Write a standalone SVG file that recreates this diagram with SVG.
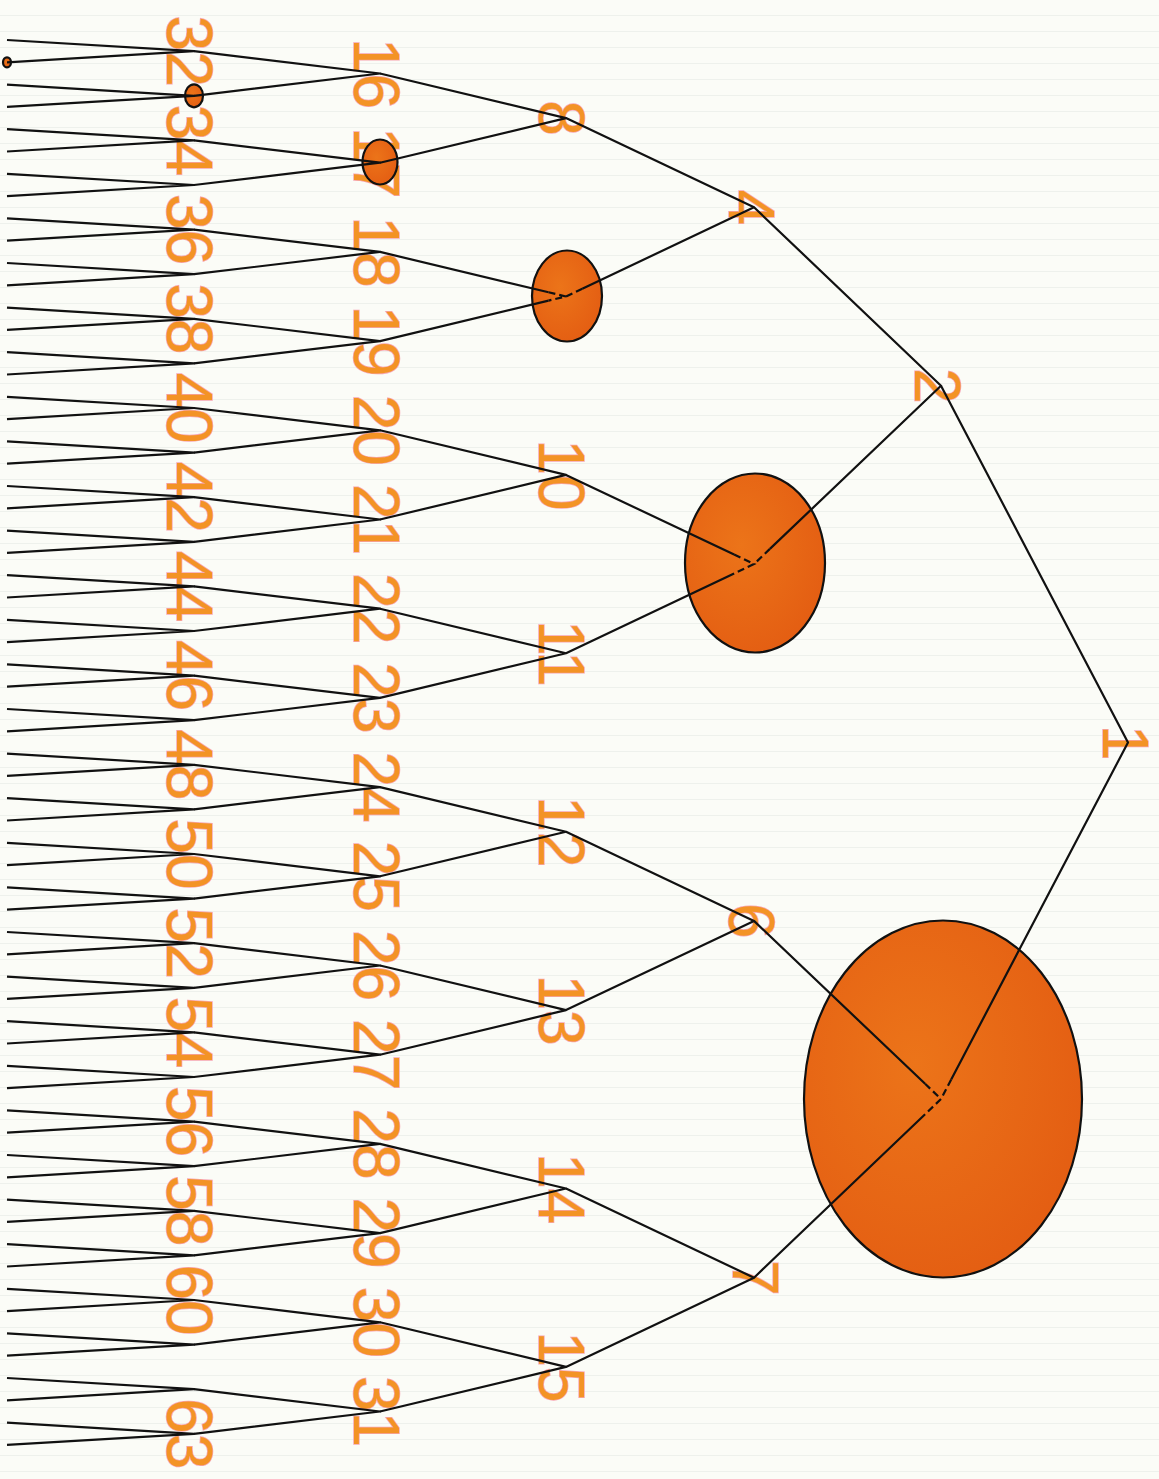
<svg xmlns="http://www.w3.org/2000/svg" width="1159" height="1479" viewBox="0 0 1159 1479">
<style>
.e{fill:none;stroke:#111;stroke-width:2.2;stroke-linejoin:round}
.d{fill:none;stroke:#111;stroke-width:2.2;stroke-dasharray:7 4}
.l{font-family:"Liberation Sans",Arial,sans-serif;font-size:64px;fill:#f39325;stroke:#f7a6b4;stroke-width:1.5;paint-order:stroke;text-anchor:middle}
.o{fill:url(#og);stroke:#111;stroke-width:2.2}
</style>
<defs>
<radialGradient id="og" cx="0.4" cy="0.4" r="0.7">
<stop offset="0" stop-color="#ec7419"/>
<stop offset="1" stop-color="#e35c12"/>
</radialGradient>
<pattern id="bg" width="20" height="16" patternUnits="userSpaceOnUse">
<rect width="20" height="16" fill="#fbfcf7"/>
<rect y="15" width="20" height="1" fill="#eef1ec"/>
</pattern>
</defs>
<rect width="1159" height="1479" fill="url(#bg)"/>
<g id="labels">
<g id="node-1"><text class="l" transform="translate(1126 742.5) rotate(90)" dy="0.36em">1</text></g>
<g id="node-2"><text class="l" transform="translate(938 385.7) rotate(90)" dy="0.36em">2</text></g>
<g id="node-4"><text class="l" transform="translate(752 207.3) rotate(90)" dy="0.36em">4</text></g>
<g id="node-6"><text class="l" transform="translate(752 920.9) rotate(90)" dy="0.36em">6</text></g>
<g id="node-7"><text class="l" transform="translate(756 1277.7) rotate(90)" dy="0.36em">7</text></g>
<g id="node-8"><text class="l" transform="translate(562 118.1) rotate(90)" dy="0.36em">8</text></g>
<g id="node-10"><text class="l" transform="translate(562 474.9) rotate(90)" dy="0.36em">10</text></g>
<g id="node-11"><text class="l" transform="translate(562 653.3) rotate(90)" dy="0.36em">11</text></g>
<g id="node-12"><text class="l" transform="translate(562 831.7) rotate(90)" dy="0.36em">12</text></g>
<g id="node-13"><text class="l" transform="translate(562 1010.1) rotate(90)" dy="0.36em">13</text></g>
<g id="node-14"><text class="l" transform="translate(562 1188.5) rotate(90)" dy="0.36em">14</text></g>
<g id="node-15"><text class="l" transform="translate(562 1366.9) rotate(90)" dy="0.36em">15</text></g>
<g id="node-16"><text class="l" transform="translate(377 73.5) rotate(90)" dy="0.36em">16</text></g>
<g id="node-17"><text class="l" transform="translate(377 162.7) rotate(90)" dy="0.36em">17</text><ellipse class="o" cx="380" cy="162" rx="17.5" ry="22.5"/></g>
<g id="node-18"><text class="l" transform="translate(377 251.9) rotate(90)" dy="0.36em">18</text></g>
<g id="node-19"><text class="l" transform="translate(377 341.1) rotate(90)" dy="0.36em">19</text></g>
<g id="node-20"><text class="l" transform="translate(377 430.3) rotate(90)" dy="0.36em">20</text></g>
<g id="node-21"><text class="l" transform="translate(377 519.5) rotate(90)" dy="0.36em">21</text></g>
<g id="node-22"><text class="l" transform="translate(377 608.7) rotate(90)" dy="0.36em">22</text></g>
<g id="node-23"><text class="l" transform="translate(377 697.9) rotate(90)" dy="0.36em">23</text></g>
<g id="node-24"><text class="l" transform="translate(377 787.1) rotate(90)" dy="0.36em">24</text></g>
<g id="node-25"><text class="l" transform="translate(377 876.3) rotate(90)" dy="0.36em">25</text></g>
<g id="node-26"><text class="l" transform="translate(377 965.5) rotate(90)" dy="0.36em">26</text></g>
<g id="node-27"><text class="l" transform="translate(377 1054.7) rotate(90)" dy="0.36em">27</text></g>
<g id="node-28"><text class="l" transform="translate(377 1143.9) rotate(90)" dy="0.36em">28</text></g>
<g id="node-29"><text class="l" transform="translate(377 1233.1) rotate(90)" dy="0.36em">29</text></g>
<g id="node-30"><text class="l" transform="translate(377 1322.3) rotate(90)" dy="0.36em">30</text></g>
<g id="node-31"><text class="l" transform="translate(377 1411.5) rotate(90)" dy="0.36em">31</text></g>
<g id="node-32"><text class="l" transform="translate(190 51.2) rotate(90)" dy="0.36em">32</text></g>
<g id="node-34"><text class="l" transform="translate(190 140.4) rotate(90)" dy="0.36em">34</text></g>
<g id="node-36"><text class="l" transform="translate(190 229.6) rotate(90)" dy="0.36em">36</text></g>
<g id="node-38"><text class="l" transform="translate(190 318.8) rotate(90)" dy="0.36em">38</text></g>
<g id="node-40"><text class="l" transform="translate(190 408) rotate(90)" dy="0.36em">40</text></g>
<g id="node-42"><text class="l" transform="translate(190 497.2) rotate(90)" dy="0.36em">42</text></g>
<g id="node-44"><text class="l" transform="translate(190 586.4) rotate(90)" dy="0.36em">44</text></g>
<g id="node-46"><text class="l" transform="translate(190 675.6) rotate(90)" dy="0.36em">46</text></g>
<g id="node-48"><text class="l" transform="translate(190 764.8) rotate(90)" dy="0.36em">48</text></g>
<g id="node-50"><text class="l" transform="translate(190 854) rotate(90)" dy="0.36em">50</text></g>
<g id="node-52"><text class="l" transform="translate(190 943.2) rotate(90)" dy="0.36em">52</text></g>
<g id="node-54"><text class="l" transform="translate(190 1032.4) rotate(90)" dy="0.36em">54</text></g>
<g id="node-56"><text class="l" transform="translate(190 1121.6) rotate(90)" dy="0.36em">56</text></g>
<g id="node-58"><text class="l" transform="translate(190 1210.8) rotate(90)" dy="0.36em">58</text></g>
<g id="node-60"><text class="l" transform="translate(190 1300) rotate(90)" dy="0.36em">60</text></g>
<g id="node-63"><text class="l" transform="translate(190 1433.8) rotate(90)" dy="0.36em">63</text></g>
</g>
<g id="node-3"><ellipse class="o" cx="943" cy="1099" rx="139" ry="178.5"/></g>
<g id="node-5"><ellipse class="o" cx="755" cy="563" rx="70" ry="89.5"/></g>
<g id="node-9"><ellipse class="o" cx="567" cy="296" rx="35" ry="45.5"/></g>
<g id="node-33"><ellipse class="o" cx="194" cy="95.8" rx="9" ry="11.5"/></g>
<g id="node-65"><ellipse class="o" cx="7" cy="62.3" rx="4" ry="5"/></g>
<g id="connectors">
<path class="e" d="M941 385.7 L1128 742.5 L951.2 1079.5"/>
<path class="d" d="M951.2 1079.5 L941 1099"/>
<path class="e" d="M754 207.3 L941 385.7 L769.9 548.9"/>
<path class="d" d="M769.9 548.9 L754 564.1"/>
<path class="e" d="M754 920.9 L925.1 1083.8 M754 1277.7 L925.1 1114.2"/>
<path class="d" d="M925.1 1083.8 L941 1099 L925.1 1114.2"/>
<path class="e" d="M566 118.1 L754 207.3 L582.3 288.7"/>
<path class="d" d="M582.3 288.7 L566 296.5"/>
<path class="e" d="M566 474.9 L734.1 554.6 M566 653.3 L734.1 573.5"/>
<path class="d" d="M734.1 554.6 L754 564.1 L734.1 573.5"/>
<path class="e" d="M566 831.7 L754 920.9 L566 1010.1"/>
<path class="e" d="M566 1188.5 L754 1277.7 L566 1366.9"/>
<path class="e" d="M380 251.9 L548.5 292.3 M380 341.1 L548.5 300.6"/>
<path class="d" d="M548.5 292.3 L566 296.5 L548.5 300.6"/>
<path class="e" d="M380 73.5 L566 118.1 L380 162.7"/>
<path class="e" d="M380 430.3 L566 474.9 L380 519.5"/>
<path class="e" d="M380 608.7 L566 653.3 L380 697.9"/>
<path class="e" d="M380 787.1 L566 831.7 L380 876.3"/>
<path class="e" d="M380 965.5 L566 1010.1 L380 1054.7"/>
<path class="e" d="M380 1143.9 L566 1188.5 L380 1233.1"/>
<path class="e" d="M380 1322.3 L566 1366.9 L380 1411.5"/>
<path class="e" d="M194 51.2 L380 73.5 L194 95.8"/>
<path class="e" d="M194 140.4 L380 162.7 L194 185"/>
<path class="e" d="M194 229.6 L380 251.9 L194 274.2"/>
<path class="e" d="M194 318.8 L380 341.1 L194 363.4"/>
<path class="e" d="M194 408 L380 430.3 L194 452.6"/>
<path class="e" d="M194 497.2 L380 519.5 L194 541.8"/>
<path class="e" d="M194 586.4 L380 608.7 L194 631"/>
<path class="e" d="M194 675.6 L380 697.9 L194 720.2"/>
<path class="e" d="M194 764.8 L380 787.1 L194 809.4"/>
<path class="e" d="M194 854 L380 876.3 L194 898.6"/>
<path class="e" d="M194 943.2 L380 965.5 L194 987.8"/>
<path class="e" d="M194 1032.4 L380 1054.7 L194 1077"/>
<path class="e" d="M194 1121.6 L380 1143.9 L194 1166.2"/>
<path class="e" d="M194 1210.8 L380 1233.1 L194 1255.4"/>
<path class="e" d="M194 1300 L380 1322.3 L194 1344.6"/>
<path class="e" d="M194 1389.2 L380 1411.5 L194 1433.8"/>
<path class="e" d="M7 40 L194 51.2 L7 62.3"/>
<path class="e" d="M7 84.6 L194 95.8 L7 106.9"/>
<path class="e" d="M7 129.2 L194 140.4 L7 151.5"/>
<path class="e" d="M7 173.8 L194 185 L7 196.1"/>
<path class="e" d="M7 218.4 L194 229.6 L7 240.7"/>
<path class="e" d="M7 263 L194 274.2 L7 285.3"/>
<path class="e" d="M7 307.6 L194 318.8 L7 329.9"/>
<path class="e" d="M7 352.2 L194 363.4 L7 374.5"/>
<path class="e" d="M7 396.8 L194 408 L7 419.1"/>
<path class="e" d="M7 441.4 L194 452.6 L7 463.7"/>
<path class="e" d="M7 486 L194 497.2 L7 508.3"/>
<path class="e" d="M7 530.6 L194 541.8 L7 552.9"/>
<path class="e" d="M7 575.2 L194 586.4 L7 597.5"/>
<path class="e" d="M7 619.8 L194 631 L7 642.1"/>
<path class="e" d="M7 664.4 L194 675.6 L7 686.7"/>
<path class="e" d="M7 709 L194 720.2 L7 731.3"/>
<path class="e" d="M7 753.6 L194 764.8 L7 775.9"/>
<path class="e" d="M7 798.2 L194 809.4 L7 820.5"/>
<path class="e" d="M7 842.8 L194 854 L7 865.1"/>
<path class="e" d="M7 887.4 L194 898.6 L7 909.7"/>
<path class="e" d="M7 932 L194 943.2 L7 954.3"/>
<path class="e" d="M7 976.6 L194 987.8 L7 998.9"/>
<path class="e" d="M7 1021.2 L194 1032.4 L7 1043.5"/>
<path class="e" d="M7 1065.8 L194 1077 L7 1088.1"/>
<path class="e" d="M7 1110.4 L194 1121.6 L7 1132.7"/>
<path class="e" d="M7 1155 L194 1166.2 L7 1177.3"/>
<path class="e" d="M7 1199.6 L194 1210.8 L7 1221.9"/>
<path class="e" d="M7 1244.2 L194 1255.4 L7 1266.5"/>
<path class="e" d="M7 1288.8 L194 1300 L7 1311.1"/>
<path class="e" d="M7 1333.4 L194 1344.6 L7 1355.7"/>
<path class="e" d="M7 1378 L194 1389.2 L7 1400.3"/>
<path class="e" d="M7 1422.6 L194 1433.8 L7 1444.9"/>
</g>
</svg>
